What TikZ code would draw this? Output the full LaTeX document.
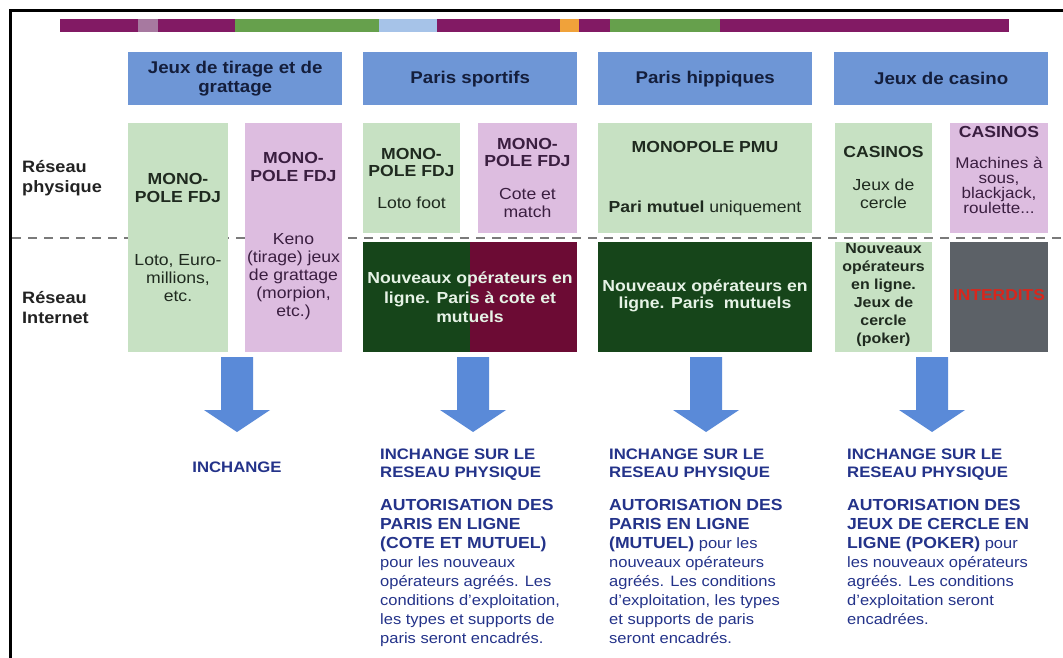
\documentclass[tikz,border=0pt]{standalone}
\usepackage{fontspec}
\setmainfont{Liberation Sans}[FakeStretch=1.1]
\definecolor{barpurple}{HTML}{821A64}
\definecolor{barlilac}{HTML}{A779A0}
\definecolor{bargreen}{HTML}{66A04C}
\definecolor{barblue}{HTML}{A6C3E8}
\definecolor{barorange}{HTML}{F0A23A}
\definecolor{headblue}{HTML}{6E96D6}
\definecolor{headtext}{HTML}{141E3C}
\definecolor{sidetext}{HTML}{222222}
\definecolor{boxgreen}{HTML}{C7E1C3}
\definecolor{boxpink}{HTML}{DDBDE0}
\definecolor{darkgreen}{HTML}{16451A}
\definecolor{maroon}{HTML}{6C0B34}
\definecolor{boxgray}{HTML}{5C6167}
\definecolor{interdit}{HTML}{D9261C}
\definecolor{arrowblue}{HTML}{5A8AD8}
\definecolor{navy}{HTML}{24338A}
\definecolor{dashgray}{HTML}{7A7A7A}
\definecolor{greentext}{HTML}{1F2A1F}
\definecolor{pinktext}{HTML}{3A1E40}
\definecolor{lighttext}{HTML}{E6F2E6}

\tikzset{
  head/.style={fill=headblue,text=headtext,font=\fontsize{17}{19}\selectfont\bfseries,align=center,minimum width=214,minimum height=53,inner sep=0,anchor=north west},
  side/.style={text=sidetext,font=\fontsize{16.5}{20}\selectfont\bfseries,align=left,anchor=west,inner sep=0},
  btitle/.style={font=\fontsize{16}{17.5}\selectfont\bfseries,align=center,inner sep=0},
  btext/.style={font=\fontsize{16}{18}\selectfont,align=center,inner sep=0},
  bluehead/.style={text=navy,font=\fontsize{15.2}{18}\selectfont\bfseries,align=left,anchor=north west,inner sep=0},
  bluetext/.style={text=navy,font=\fontsize{15}{19}\selectfont,align=left,anchor=north west,inner sep=0}
}
\newcommand{\capsb}[1]{{\fontsize{16}{19}\selectfont\bfseries #1}}

\begin{document}
\begin{tikzpicture}[x=1pt,y=-1pt]
\useasboundingbox (0,0) rectangle (1063,658);
\fill[white] (0,0) rectangle (1063,658);
\draw[line width=3] (10,658) -- (10,11) -- (1063,11);

\foreach \xa/\xb/\col in {60/138/barpurple,138/158/barlilac,158/235/barpurple,235/379/bargreen,379/437/barblue,437/560/barpurple,560/579/barorange,579/610/barpurple,610/720/bargreen,720/1009/barpurple}
  \fill[\col] (\xa,19) rectangle (\xb,32);

\node[head] (tirage) at (128,52) {Jeux de tirage et de\\grattage};
\node[head] (sportifs) at (363,52) {Paris sportifs};
\node[head] (hippiques) at (598,52) {Paris hippiques};
\node[head] (casino) at (834,52) {Jeux de casino};

\draw[dashgray,line width=2.5,dash pattern=on 9 off 7] (12,238) -- (1063,238);

\fill[boxgreen] (128,123) rectangle (228,352);
\fill[boxpink] (245,123) rectangle (342,352);
\fill[boxgreen] (363,123) rectangle (460,233);
\fill[boxpink] (478,123) rectangle (577,233);
\fill[boxgreen] (598,123) rectangle (812,233);
\fill[boxgreen] (835,123) rectangle (932,233);
\fill[boxpink] (950,123) rectangle (1048,233);
\fill[darkgreen] (363,242) rectangle (470,352);
\fill[maroon] (470,242) rectangle (577,352);
\fill[darkgreen] (598,242) rectangle (812,352);
\fill[boxgreen] (835,242) rectangle (932,352);
\fill[boxgray] (950,242) rectangle (1048,352);

\node[side] (physique) at (22,178) {Réseau\\physique};
\node[side] (internet) at (22,308) {Réseau\\Internet};

\node[btitle,text=greentext] (fdjA) at (178,188) {MONO-\\POLE FDJ};
\node[btext,text=greentext] (loto) at (178,278) {Loto, Euro-\\millions,\\etc.};
\node[btitle,text=pinktext] (fdjB) at (293.5,167) {MONO-\\POLE FDJ};
\node[btext,text=pinktext] (keno) at (293.5,277) {Keno\\(tirage) jeux\\de grattage\\(morpion,\\etc.)};
\node[btitle,text=greentext] (fdjC) at (411.5,162.5) {MONO-\\POLE FDJ};
\node[btext,text=greentext] (lotofoot) at (411.5,203) {Loto foot};
\node[btitle,text=pinktext] (fdjD) at (527.5,152.5) {MONO-\\POLE FDJ};
\node[btext,text=pinktext] (cote) at (527.5,203) {Cote et\\match};
\node[btitle,text=greentext] (pmu) at (705,147) {MONOPOLE PMU};
\node[btext,text=greentext] (mutuel) at (705,208) {\textbf{Pari mutuel} uniquement};
\node[btitle,text=greentext] (casA) at (883.5,152) {CASINOS};
\node[btext,text=greentext] (cercle) at (883.5,193.5) {Jeux de\\cercle};
\node[btitle,text=pinktext] (casB) at (999,132) {CASINOS};
\node[btext,text=pinktext,font=\fontsize{15.5}{15}\selectfont] (machines) at (999,185) {Machines à\\sous,\\blackjack,\\roulette...};

\node[btitle,text=lighttext,font=\fontsize{16}{19.5}\selectfont\bfseries] (enligneA) at (470,297.5) {Nouveaux opérateurs en\\ligne. Paris à cote et\\mutuels};
\node[btitle,text=lighttext,font=\fontsize{16}{17}\selectfont\bfseries] (enligneB) at (705,296) {Nouveaux opérateurs en\\ligne. Paris~~mutuels};
\node[btitle,text=greentext,font=\fontsize{14.5}{18}\selectfont\bfseries] (poker) at (883.5,295) {Nouveaux\\opérateurs\\en ligne.\\Jeux de\\cercle\\(poker)};
\node[btitle,text=interdit,font=\fontsize{15.8}{18}\selectfont\bfseries] (interdits) at (999,295) {INTERDITS};

\foreach \x in {237,473,706,932}
  \fill[arrowblue] (\x-16,357) -- (\x+16,357) -- (\x+16,410) -- (\x+33,410) -- (\x,432) -- (\x-33,410) -- (\x-16,410) -- cycle;

\node[bluehead,anchor=center] (inchange) at (237,467) {INCHANGE};

\node[bluehead] (physA) at (380,449) {INCHANGE SUR LE\\RESEAU PHYSIQUE};
\node[bluetext] (autoA) at (380,499) {\capsb{AUTORISATION DES}\\\capsb{PARIS EN LIGNE}\\\capsb{(COTE ET MUTUEL)}\\pour les nouveaux\\opérateurs agréés. Les\\conditions d'exploitation,\\les types et supports de\\paris seront encadrés.};

\node[bluehead] (physB) at (609,449) {INCHANGE SUR LE\\RESEAU PHYSIQUE};
\node[bluetext] (autoB) at (609,499) {\capsb{AUTORISATION DES}\\\capsb{PARIS EN LIGNE}\\\capsb{(MUTUEL)} pour les\\nouveaux opérateurs\\agréés. Les conditions\\d'exploitation, les types\\et supports de paris\\seront encadrés.};

\node[bluehead] (physC) at (847,449) {INCHANGE SUR LE\\RESEAU PHYSIQUE};
\node[bluetext] (autoC) at (847,499) {\capsb{AUTORISATION DES}\\\capsb{JEUX DE CERCLE EN}\\\capsb{LIGNE (POKER)} pour\\les nouveaux opérateurs\\agréés. Les conditions\\d'exploitation seront\\encadrées.};

\end{tikzpicture}
\end{document}
